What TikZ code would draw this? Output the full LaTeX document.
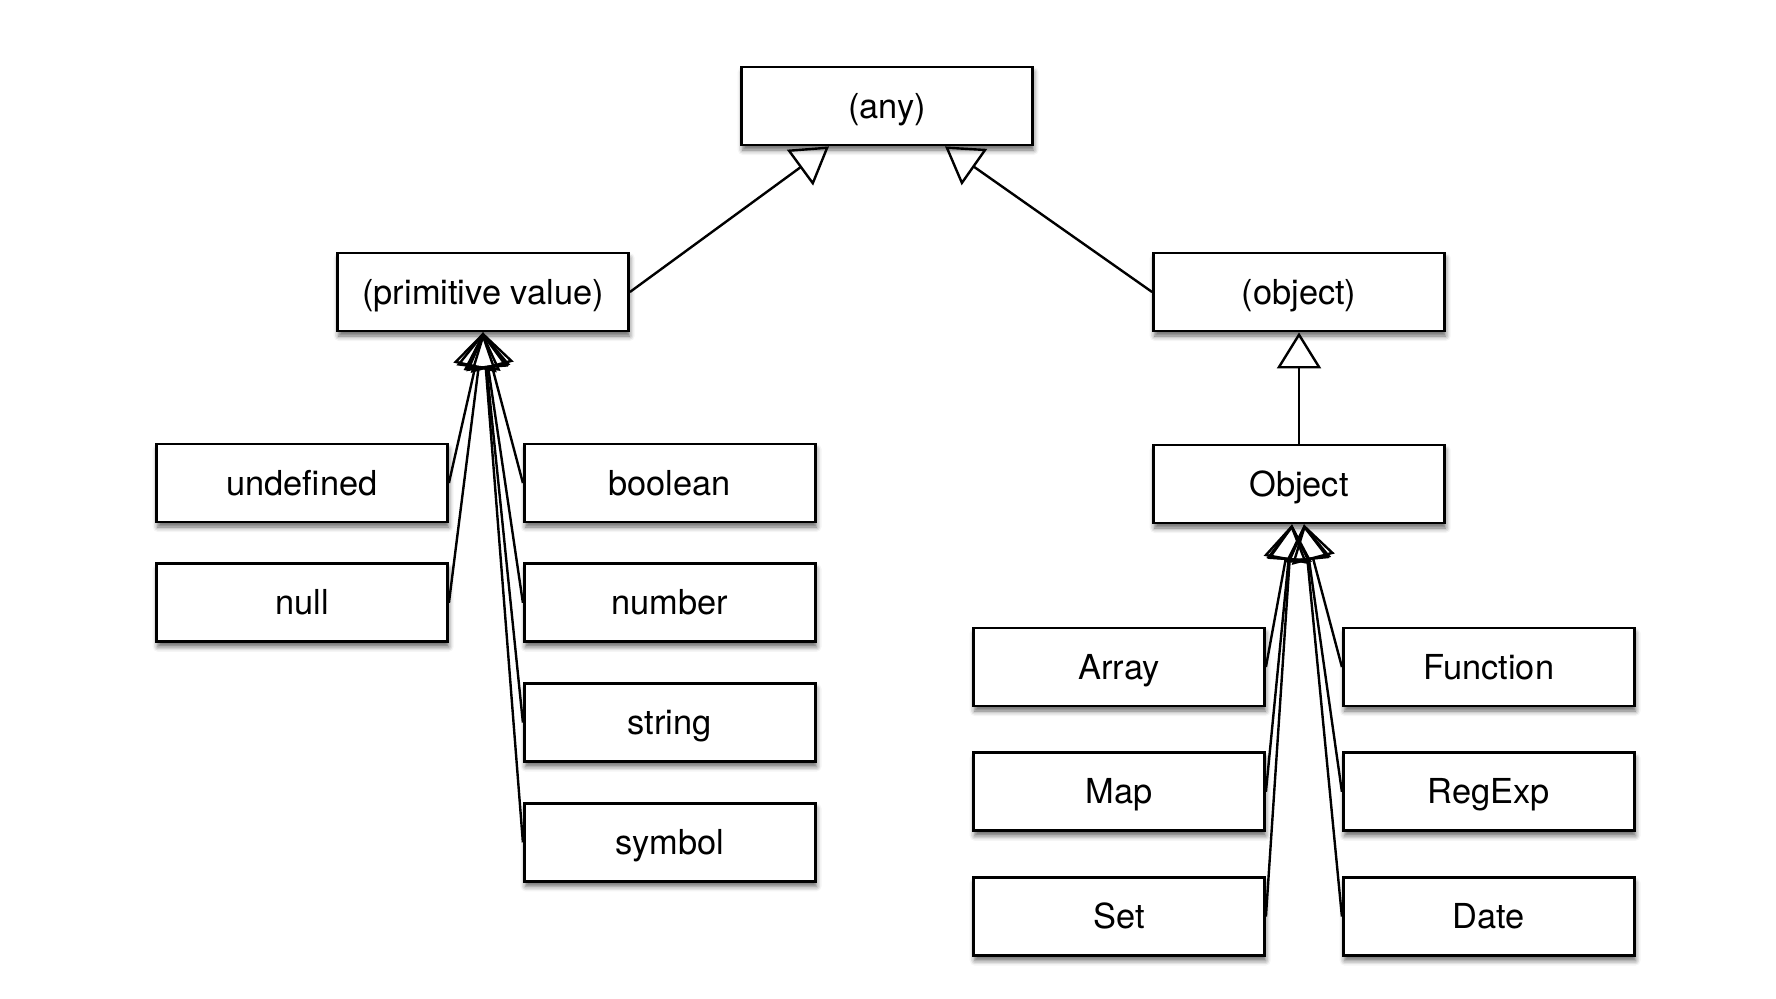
\documentclass[tikz,border=0pt]{standalone}
\usepackage{fontspec}
\setmainfont{TeX Gyre Heros}
\usetikzlibrary{positioning,arrows.meta,shadows.blur}

\begin{document}
\begin{tikzpicture}[x=0.5pt, y=-0.5pt,
  box/.style={draw, line width=1.4pt, fill=white, minimum width=145.5pt,
    minimum height=39pt, inner sep=0pt, text height=15pt, text depth=3pt,
    font=\fontsize{17.2}{20}\selectfont,
    blur shadow={shadow xshift=0.6pt, shadow yshift=-2.5pt,
      shadow blur radius=2.5pt, shadow opacity=60}},
  gen/.style={-{Triangle[open, length=18pt, width=22pt]}, line width=1.2pt},
  node distance=19.5pt and 37pt]

\useasboundingbox (0,0) rectangle (1776,998);

\node[box] (any) at (887,106) {(any)};

\node[box] (prim) at (483,292) {(primitive value)};
\node[box] (obj) at (1299,292) {(object)};

%primitive values
\node[box] (undef) at (302,483) {undefined};
\node[box, below=of undef] (null) {null};
\node[box, right=of undef] (bool) {boolean};
\node[box, below=of bool] (num) {number};
\node[box, below=of num] (str) {string};
\node[box, below=of str] (sym) {symbol};

%objects
\node[box] (Obj) at (1299,484) {Object};
\node[box] (arr) at (1119,667) {Array};
\node[box, below=22pt of arr] (map) {Map};
\node[box, below=22pt of map] (set) {Set};
\node[box, right=38pt of arr] (fun) {Function};
\node[box, below=22pt of fun] (regx) {RegExp};
\node[box, below=22pt of regx] (date) {Date};

\draw[gen] (prim.east) -- ([xshift=-29pt]any.south);
\draw[gen] (obj.west) -- ([xshift=29pt]any.south);
\draw[gen] (Obj.north) -- (obj.south);

\foreach \c in {undef,null}
  \draw[gen] (\c.east) -- (prim.south);
\foreach \c in {bool,num,str,sym}
  \draw[gen] (\c.west) -- (prim.south);

\foreach \c in {arr,map,set}
  \draw[gen] (\c.east) -- ([xshift=-3.5pt]Obj.south);
\foreach \c in {fun,regx,date}
  \draw[gen] (\c.west) -- ([xshift=2.5pt]Obj.south);

\end{tikzpicture}
\end{document}
